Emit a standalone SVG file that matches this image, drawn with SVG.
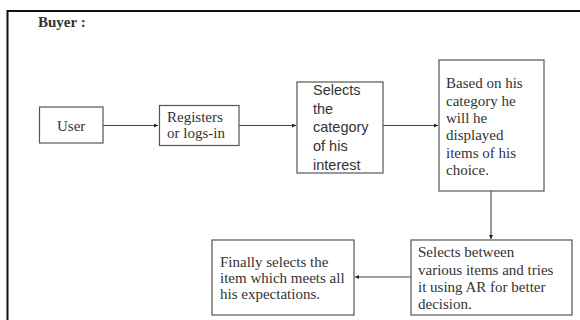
<svg xmlns="http://www.w3.org/2000/svg" width="580" height="320" viewBox="0 0 580 320">
<style>
.box{fill:#fff;stroke:#555;stroke-width:1.2}
.t{font-family:"Liberation Serif","Times New Roman",serif;font-size:15px;fill:#333}
.s{font-family:"Liberation Sans",Arial,sans-serif;font-size:14.5px;fill:#333}
.c{stroke:#444;stroke-width:1.1;fill:none;marker-end:url(#ah)}
</style>
<defs>
<marker id="ah" viewBox="0 0 6 6" refX="6" refY="3" markerWidth="4" markerHeight="4" markerUnits="userSpaceOnUse" orient="auto">
<path d="M0,0 L6,3 L0,6 z" fill="#222"/>
</marker>
</defs>
<rect width="580" height="320" fill="#fff"/>
<g id="frame">
<line x1="7.5" y1="11" x2="580" y2="11" stroke="#111" stroke-width="2"/>
<line x1="7.5" y1="10" x2="7.5" y2="320" stroke="#111" stroke-width="2"/>
<text x="38" y="27" class="t" font-weight="bold">Buyer :</text>
</g>
<g id="connectors">
<line class="c" x1="103" y1="125.5" x2="158" y2="125.5"/>
<line class="c" x1="239" y1="125.5" x2="296" y2="125.5"/>
<line class="c" x1="383" y1="125.5" x2="438" y2="125.5"/>
<line class="c" x1="491" y1="191" x2="491" y2="239"/>
<line class="c" x1="411" y1="277" x2="355" y2="277"/>
</g>
<g id="user">
<rect class="box" x="39.5" y="107" width="63.5" height="36"/>
<text x="57" y="131" class="t">User</text>
</g>
<g id="registers">
<rect class="box" x="159.5" y="105.5" width="79.5" height="40"/>
<text x="167" y="122" class="t">Registers</text>
<text x="167" y="138" class="t">or logs-in</text>
</g>
<g id="selects-category">
<rect class="box" x="297" y="82" width="86" height="91"/>
<text x="313" y="95" class="s">Selects</text>
<text x="313" y="113.5" class="s">the</text>
<text x="313" y="132" class="s">category</text>
<text x="313" y="151" class="s">of his</text>
<text x="313" y="170" class="s">interest</text>
</g>
<g id="based-on">
<rect class="box" x="439" y="60" width="105" height="131"/>
<text x="446" y="88" class="t">Based on his</text>
<text x="446" y="105.5" class="t">category he</text>
<text x="446" y="123" class="t">will he</text>
<text x="446" y="140" class="t">displayed</text>
<text x="446" y="157.5" class="t">items of his</text>
<text x="446" y="175" class="t">choice.</text>
</g>
<g id="selects-between">
<rect class="box" x="411" y="240" width="161" height="75"/>
<text x="418" y="257" class="t">Selects between</text>
<text x="418" y="274.5" class="t">various items and tries</text>
<text x="418" y="291.5" class="t">it using AR for better</text>
<text x="418" y="309" class="t">decision.</text>
</g>
<g id="finally">
<rect class="box" x="212" y="240" width="142" height="75"/>
<text x="220" y="267" class="t">Finally selects the</text>
<text x="220" y="283" class="t">item which meets all</text>
<text x="220" y="298.5" class="t">his expectations.</text>
</g>
</svg>
